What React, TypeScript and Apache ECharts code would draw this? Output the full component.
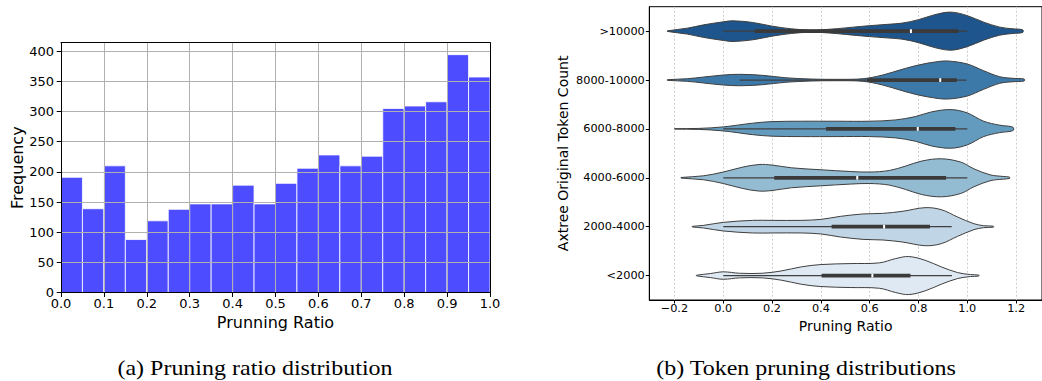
import React, { useEffect, useRef } from 'react';
import * as echarts from 'echarts';

// ---------- Left: histogram ----------
const binEdges = [0, 0.05, 0.1, 0.15, 0.2, 0.25, 0.3, 0.35, 0.4, 0.45, 0.5, 0.55, 0.6, 0.65, 0.7, 0.75, 0.8, 0.85, 0.9, 0.95, 1.0];
const frequency = [191, 139, 210, 88, 119, 138, 147, 147, 178, 147, 181, 206, 228, 210, 226, 305, 309, 316, 394, 357];
const histXTicks = [0, 0.1, 0.2, 0.3, 0.4, 0.5, 0.6, 0.7, 0.8, 0.9, 1.0];
const histYTicks = [0, 50, 100, 150, 200, 250, 300, 350, 400];

// ---------- Right: violins ----------
const violinCategories = ['>10000', '8000-10000', '6000-8000', '4000-6000', '2000-4000', '<2000'];
const violinXTicks = [-0.2, 0, 0.2, 0.4, 0.6, 0.8, 1.0, 1.2];
const violinColors = ['#1e558c', '#3d79a8', '#629bbe', '#93bbd2', '#c0d5e5', '#dee9f3'];

// density profile: x positions and half-widths (fraction of category band)
const gt10000X = [-0.229, -0.147, -0.08, 0.0, 0.04, 0.12, 0.2, 0.28, 0.36, 0.4, 0.467, 0.533, 0.6, 0.667, 0.733, 0.8, 0.867, 0.933, 1.0, 1.067, 1.133, 1.187, 1.227];
const gt10000W = [0.006, 0.061, 0.129, 0.19, 0.211, 0.178, 0.102, 0.047, 0.02, 0.027, 0.051, 0.082, 0.112, 0.137, 0.164, 0.235, 0.337, 0.389, 0.317, 0.184, 0.082, 0.047, 0.027];
const r8000X = [-0.229, -0.147, -0.08, 0.0, 0.067, 0.16, 0.253, 0.36, 0.467, 0.573, 0.653, 0.733, 0.8, 0.867, 0.92, 1.0, 1.067, 1.133, 1.187, 1.233];
const r8000W = [0.006, 0.027, 0.061, 0.102, 0.117, 0.096, 0.047, 0.02, 0.014, 0.027, 0.102, 0.219, 0.307, 0.368, 0.389, 0.327, 0.19, 0.067, 0.035, 0.02];
const r6000X = [-0.2, -0.1, 0.0, 0.12, 0.2, 0.32, 0.467, 0.6, 0.707, 0.787, 0.853, 0.933, 1.0, 1.067, 1.133, 1.187];
const r6000W = [0.004, 0.01, 0.041, 0.117, 0.149, 0.157, 0.157, 0.157, 0.184, 0.252, 0.348, 0.395, 0.327, 0.157, 0.076, 0.035];
const r4000X = [-0.173, -0.08, 0.0, 0.08, 0.147, 0.2, 0.28, 0.4, 0.52, 0.6, 0.68, 0.747, 0.813, 0.893, 0.973, 1.027, 1.093, 1.147, 1.173];
const r4000W = [0.006, 0.041, 0.117, 0.219, 0.272, 0.26, 0.204, 0.164, 0.129, 0.117, 0.149, 0.239, 0.342, 0.389, 0.321, 0.184, 0.061, 0.027, 0.014];
const r2000X = [-0.127, -0.08, 0.0, 0.12, 0.2, 0.32, 0.4, 0.48, 0.573, 0.653, 0.733, 0.827, 0.893, 0.96, 1.027, 1.067, 1.107];
const r2000W = [0.006, 0.027, 0.088, 0.129, 0.129, 0.129, 0.149, 0.211, 0.26, 0.272, 0.313, 0.389, 0.348, 0.198, 0.061, 0.02, 0.01];
const lt2000X = [-0.11, -0.053, 0.0, 0.067, 0.16, 0.24, 0.32, 0.4, 0.52, 0.64, 0.707, 0.76, 0.827, 0.893, 0.96, 1.013, 1.047];
const lt2000W = [0.006, 0.041, 0.076, 0.047, 0.047, 0.096, 0.178, 0.225, 0.245, 0.26, 0.348, 0.389, 0.313, 0.178, 0.061, 0.02, 0.01];

const whiskerLow = [0.0, 0.067, 0.0, 0.0, 0.0, 0.0];
const q1 = [0.129, 0.589, 0.421, 0.209, 0.444, 0.403];
const median = [0.769, 0.889, 0.797, 0.549, 0.659, 0.611];
const q3 = [0.963, 0.957, 0.951, 0.913, 0.847, 0.767];
const whiskerHigh = [1.0, 0.997, 1.0, 1.0, 0.936, 0.937];

const FONT = 'DejaVu Sans';
const SERIF = '"Liberation Serif", "Times New Roman", Times, serif';

export default function App() {
  const ref = useRef<HTMLDivElement>(null);
  useEffect(() => {
    if (!ref.current) return;
    const chart = echarts.init(ref.current, null, { renderer: 'svg' });
    const densX = [gt10000X, r8000X, r6000X, r4000X, r2000X, lt2000X];
    const densW = [gt10000W, r8000W, r6000W, r4000W, r2000W, lt2000W];
    const histData = frequency.map((f, i) => [binEdges[i], binEdges[i + 1], f]);
    const fmtMinus = (v: number) => (v < 0 ? '\u2212' + Math.abs(v).toFixed(1) : v.toFixed(1));

    const option: any = {
      animation: false,
      grid: [
        { left: 61, top: 42.7, width: 429, height: 250 },
        { left: 649.3, top: 6.7, width: 402.3, height: 293.3, show: true, borderColor: '#000', borderWidth: 1 },
      ],
      xAxis: [
        {
          gridIndex: 0, type: 'value', min: 0, max: 1, z: 5,
          axisLine: { show: true, onZero: false, lineStyle: { color: '#000', width: 1 } },
          axisTick: { show: true, customValues: histXTicks, length: 4.3, lineStyle: { color: '#000', width: 1 } },
          axisLabel: { customValues: histXTicks, formatter: (v: number) => v.toFixed(1), fontSize: 13, color: '#000', fontFamily: FONT, margin: 4 },
          splitLine: { show: true, lineStyle: { color: '#b0b0b0', width: 1 } },
          name: 'Prunning Ratio', nameLocation: 'middle', nameGap: 21,
          nameTextStyle: { fontSize: 16, color: '#000', fontFamily: FONT },
        },
        {
          gridIndex: 0, type: 'value', position: 'top', min: 0, max: 1, z: 5,
          axisLine: { show: true, onZero: false, lineStyle: { color: '#000', width: 1 } },
          axisTick: { show: false }, axisLabel: { show: false }, splitLine: { show: false },
        },
        {
          gridIndex: 1, type: 'value', min: -0.303, max: 1.306,
          axisLine: { show: true, onZero: false, lineStyle: { color: '#000', width: 1 } },
          axisTick: { show: true, customValues: violinXTicks, length: 3.5, lineStyle: { color: '#000', width: 1 } },
          axisLabel: { customValues: violinXTicks, formatter: fmtMinus, fontSize: 11.3, color: '#000', fontFamily: FONT, margin: 3 },
          splitLine: { show: true, lineStyle: { color: '#cccccc', width: 1, type: [2, 2] } },
          name: 'Pruning Ratio', nameLocation: 'middle', nameGap: 17,
          nameTextStyle: { fontSize: 14, color: '#000', fontFamily: FONT },
        },
      ],
      yAxis: [
        {
          gridIndex: 0, type: 'value', min: 0, max: 413.8, z: 5,
          axisLine: { show: true, onZero: false, lineStyle: { color: '#000', width: 1 } },
          axisTick: { show: true, customValues: histYTicks, length: 4.3, lineStyle: { color: '#000', width: 1 } },
          axisLabel: { customValues: histYTicks, fontSize: 13, color: '#000', fontFamily: FONT, margin: 7 },
          splitLine: { show: true, lineStyle: { color: '#b0b0b0', width: 1 } },
          name: 'Frequency', nameLocation: 'middle', nameGap: 36,
          nameTextStyle: { fontSize: 16, color: '#000', fontFamily: FONT },
        },
        {
          gridIndex: 0, type: 'value', position: 'right', min: 0, max: 413.8, z: 5,
          axisLine: { show: true, onZero: false, lineStyle: { color: '#000', width: 1 } },
          axisTick: { show: false }, axisLabel: { show: false }, splitLine: { show: false },
        },
        {
          gridIndex: 1, type: 'category', data: violinCategories, inverse: true, position: 'left',
          axisLine: { show: true, onZero: false, lineStyle: { color: '#000', width: 1 } },
          axisTick: { show: true, alignWithLabel: true, length: 3.5, lineStyle: { color: '#000', width: 1 } },
          axisLabel: { fontSize: 11.3, color: '#000', fontFamily: FONT, margin: 4.5 },
          splitLine: { show: false },
          name: 'Axtree Original Token Count', nameLocation: 'middle', nameGap: 79,
          nameTextStyle: { fontSize: 14, color: '#000', fontFamily: FONT },
        },
      ],
      series: [
        {
          type: 'custom', xAxisIndex: 0, yAxisIndex: 0, data: histData,
          encode: { x: [0, 1], y: 2 },
          renderItem: (params: any, api: any) => {
            const p0 = api.coord([api.value(0), api.value(2)]);
            const p1 = api.coord([api.value(1), 0]);
            return {
              type: 'rect',
              shape: { x: p0[0], y: p0[1], width: p1[0] - p0[0], height: p1[1] - p0[1] },
              style: { fill: '#4d4dff', stroke: '#ffffff', lineWidth: 0.8 },
            };
          },
        },
        {
          type: 'custom', xAxisIndex: 2, yAxisIndex: 2,
          data: violinCategories.map((c, i) => [i]),
          encode: { y: 0 },
          clip: false,
          renderItem: (params: any, api: any) => {
            const i = params.dataIndex;
            const cat = api.value(0);
            const band = api.size([0, 1])[1];
            const xs = densX[i];
            const ws = densW[i];
            const up = xs.map((x, k) => { const c = api.coord([x, cat]); return [c[0], c[1] - ws[k] * band]; });
            const lo = xs.map((x, k) => { const c = api.coord([x, cat]); return [c[0], c[1] + ws[k] * band]; }).reverse();
            const wl = api.coord([whiskerLow[i], cat]);
            const wh = api.coord([whiskerHigh[i], cat]);
            const b1 = api.coord([q1[i], cat]);
            const b3 = api.coord([q3[i], cat]);
            const m = api.coord([median[i], cat]);
            return {
              type: 'group',
              children: [
                { type: 'polygon', shape: { points: up.concat(lo), smooth: 0.35 }, style: { fill: violinColors[i], stroke: '#3f3f3f', lineWidth: 1 } },
                { type: 'line', shape: { x1: wl[0], y1: wl[1], x2: wh[0], y2: wh[1] }, style: { stroke: '#3f3f3f', lineWidth: 1.2 } },
                { type: 'line', shape: { x1: b1[0], y1: b1[1], x2: b3[0], y2: b3[1] }, style: { stroke: '#3a3a3a', lineWidth: 3.8, lineCap: 'butt' } },
                { type: 'rect', shape: { x: m[0] - 1, y: m[1] - 1.9, width: 2, height: 3.8 }, style: { fill: '#ffffff' } },
              ],
            };
          },
        },
      ],
      graphic: [
        {
          type: 'text', x: 255, y: 368, scaleX: 1.2,
          style: { text: '(a) Pruning ratio distribution', fontSize: 20, fontFamily: SERIF, fill: '#000', textAlign: 'center', textVerticalAlign: 'middle' },
        },
        {
          type: 'text', x: 806, y: 368, scaleX: 1.2,
          style: { text: '(b) Token pruning distributions', fontSize: 20, fontFamily: SERIF, fill: '#000', textAlign: 'center', textVerticalAlign: 'middle' },
        },
      ],
    };
    chart.setOption(option);
    return () => chart.dispose();
  }, []);
  return <div ref={ref} style={{ position: 'absolute', left: 0, top: 0, width: 1042, height: 381, background: '#fff' }} />;
}
